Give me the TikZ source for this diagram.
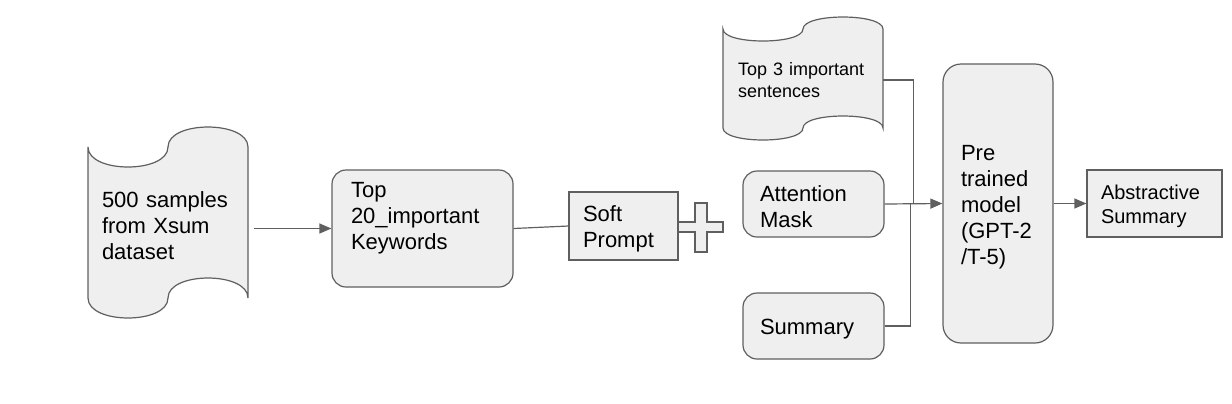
\documentclass[tikz,border=0pt]{standalone}
\usepackage{fontspec}
\setmainfont{Liberation Sans}
\usetikzlibrary{arrows.meta, positioning, calc}
\definecolor{boxgray}{HTML}{EFEFEF}
\definecolor{linegray}{HTML}{5F5F5F}
\tikzset{
  stage/.style={draw=linegray, fill=boxgray, line width=0.6pt, align=left, font=\fontsize{11}{13}\selectfont},
  roundstage/.style={stage, rounded corners=7pt},
  lowered/.style={execute at begin node={\rule{0pt}{1em}}},
  doctext/.style={align=left, font=\fontsize{11}{13}\selectfont},
  docline/.style={draw=linegray, fill=boxgray, line width=0.6pt},
  flow/.style={draw=linegray, line width=0.6pt, -{Triangle[length=6pt,width=5pt]}},
  link/.style={draw=linegray, line width=0.6pt}
}
% wavy document outline: left, top, right, bottom, bend depth
\newcommand{\wavedoc}[5]{%
  \filldraw[docline] (#1,#2)
    .. controls (#1,{#2+1.333*#5}) and ({(#1+#3)/2},{#2+1.333*#5}) .. ({(#1+#3)/2},#2)
    .. controls ({(#1+#3)/2},{#2-1.333*#5}) and (#3,{#2-1.333*#5}) .. (#3,#2)
    -- (#3,#4)
    .. controls (#3,{#4-1.333*#5}) and ({(#1+#3)/2},{#4-1.333*#5}) .. ({(#1+#3)/2},#4)
    .. controls ({(#1+#3)/2},{#4+1.333*#5}) and (#1,{#4+1.333*#5}) .. (#1,#4)
    -- cycle;}

\begin{document}
\begin{tikzpicture}[x=0.5pt, y=-0.5pt]
  \useasboundingbox (0,0) rectangle (1232,403);
  % Input data and keyword extraction
  \wavedoc{88}{147}{248}{298}{20}
  \node[doctext, inner xsep=7pt, text width=66pt] (data) at (168,226) {500 samples\\from Xsum\\dataset};
  \node[roundstage, minimum height=58.5pt, inner xsep=9.5pt, text width=71.5pt] (kw) at (422.5,228.5) {Top\\20\_important\\Keywords\\\phantom{K}};
  \node[stage, lowered, minimum height=34pt, inner xsep=7pt, text width=40.5pt] (soft) at (623.5,226) {Soft\\Prompt};
  % Plus sign
  \filldraw[docline] (678,222) -- (695,222) -- (695,203) -- (707,203) -- (707,222) -- (723,222) -- (723,232) -- (707,232) -- (707,252) -- (695,252) -- (695,232) -- (678,232) -- cycle;
  % Model inputs
  \wavedoc{723}{29}{883}{128}{12}
  \node[doctext, font=\fontsize{9}{11}\selectfont, inner xsep=7.5pt, text width=65pt] (sent) at (803,80) {Top 3 important\\sentences};
  \node[roundstage, lowered, minimum height=33pt, inner xsep=8.5pt, text width=53.5pt] (att) at (813.5,204) {Attention\\Mask};
  \node[roundstage, lowered, minimum height=33pt, inner xsep=8.5pt, text width=53.5pt] (summ) at (813.5,326) {Summary};
  % Model and output
  \node[stage, lowered, rounded corners=9pt, minimum height=139.5pt, inner xsep=9pt, text width=37pt] (pre) at (998,203.5) {Pre\\trained\\model\\(GPT-2\\/T-5)};
  \node[stage, lowered, font=\fontsize{10}{12}\selectfont, minimum height=33.5pt, inner xsep=7pt, text width=53.5pt] (abs) at (1154.5,203.5) {Abstractive\\Summary};
  % Connectors
  \coordinate (merge) at ($(att.east)!0.5!(pre.west)$);
  \draw[flow, shorten <=3pt] (data.east |- kw.west) -- (kw.west);
  \draw[link] (kw.east) -- (soft.west);
  \draw[link] (sent.east) -| (merge);
  \draw[link] (summ.east) -| ([xshift=-1.5pt]merge);
  \draw[flow] (att.east) -- (pre.west);
  \draw[flow] (pre.east) -- (abs.west);
\end{tikzpicture}
\end{document}
